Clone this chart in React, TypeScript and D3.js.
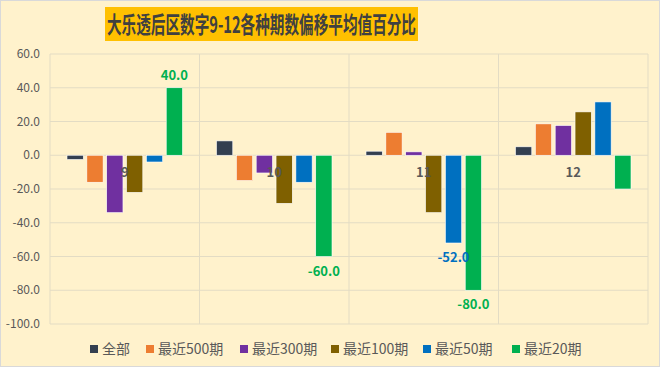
import * as d3 from "d3"
import { useEffect, useRef } from "react"

const categories = ["9", "10", "11", "12"]
const seriesNames = ["全部", "最近500期", "最近300期", "最近100期", "最近50期", "最近20期"]
const seriesColors = ["#333F50", "#ED7D31", "#7030A0", "#7F6000", "#0070C0", "#00B050"]

// values per series, one entry per category (9, 10, 11, 12)
const allValues = [-2.5, 8.5, 2.4, 5]
const last500 = [-16, -15, 13.6, 18.6]
const last300 = [-34, -10.5, 2, 17.6]
const last100 = [-22, -28.5, -34, 25.7]
const last50 = [-4, -16, -52, 31.6]
const last20 = [40, -60, -80, -20]
const seriesValues = [allValues, last500, last300, last100, last50, last20]

// which bars carry a value label: [series index, category index]
const labelled = [
  [5, 0],
  [5, 1],
  [4, 2],
  [5, 2],
]

const yTicks = [60, 40, 20, 0, -20, -40, -60, -80, -100]
const FONT = "'Noto Sans CJK SC', 'Noto Sans', sans-serif"

const App = () => {
  const svgRef = useRef<SVGSVGElement>(null)
  const width = 660
  const height = 367

  useEffect(() => {
    if (!svgRef.current) return
    d3.select(svgRef.current).selectAll("*").remove()

    const MARGIN = { top: 54, right: 12, bottom: 43, left: 50 }
    const svg = d3.select(svgRef.current)

    // background + frame
    svg
      .append("rect")
      .attr("x", 0.5)
      .attr("y", 0.5)
      .attr("width", width - 1)
      .attr("height", height - 1)
      .attr("fill", "#FFF2CC")
      .attr("stroke", "#D9D9D9")

    // title
    svg
      .append("rect")
      .attr("x", 105)
      .attr("y", 7)
      .attr("width", 313)
      .attr("height", 34)
      .attr("fill", "#FFC000")
    svg
      .append("text")
      .attr("x", 107)
      .attr("y", 33)
      .attr("font-family", FONT)
      .attr("font-weight", "bold")
      .attr("font-size", "23px")
      .attr("fill", "#404040")
      .attr("textLength", 309)
      .attr("lengthAdjust", "spacingAndGlyphs")
      .text("大乐透后区数字9-12各种期数偏移平均值百分比")

    const x0 = d3
      .scaleBand()
      .domain(categories)
      .range([MARGIN.left, width - MARGIN.right])
      .paddingInner(0)
      .paddingOuter(0)

    const x1 = d3
      .scaleBand()
      .domain(seriesNames)
      .range([17, x0.bandwidth() - 17])
      .paddingInner(0.18)
      .paddingOuter(0)

    const yScale = d3
      .scaleLinear()
      .domain([-100, 60])
      .range([height - MARGIN.bottom, MARGIN.top])

    // horizontal gridlines
    svg
      .selectAll("line.hgrid")
      .data(yTicks)
      .join("line")
      .attr("class", "hgrid")
      .attr("x1", MARGIN.left)
      .attr("x2", width - MARGIN.right)
      .attr("y1", (d) => yScale(d))
      .attr("y2", (d) => yScale(d))
      .attr("stroke", "#E3DCC4")
      .attr("stroke-width", 1)

    // vertical category separators
    const vx = categories.map((c) => x0(c) as number).concat([width - MARGIN.right])
    svg
      .selectAll("line.vgrid")
      .data(vx)
      .join("line")
      .attr("class", "vgrid")
      .attr("x1", (d) => d)
      .attr("x2", (d) => d)
      .attr("y1", yScale(60))
      .attr("y2", yScale(-100))
      .attr("stroke", "#E3DCC4")
      .attr("stroke-width", 1)

    // y axis labels
    svg
      .selectAll("text.ytick")
      .data(yTicks)
      .join("text")
      .attr("class", "ytick")
      .attr("x", MARGIN.left - 10)
      .attr("y", (d) => yScale(d))
      .attr("dy", "0.35em")
      .attr("text-anchor", "end")
      .attr("font-family", FONT)
      .attr("font-size", "12px")
      .attr("fill", "#595959")
      .text((d) => d.toFixed(1))

    // bars
    seriesValues.forEach((vals, si) => {
      svg
        .append("g")
        .selectAll("rect")
        .data(vals)
        .join("rect")
        .attr("x", (_, ci) => (x0(categories[ci]) as number) + (x1(seriesNames[si]) as number))
        .attr("width", x1.bandwidth())
        .attr("y", (d) => yScale(Math.max(0, d)))
        .attr("height", (d) => Math.abs(yScale(d) - yScale(0)))
        .attr("fill", seriesColors[si])
        .attr("stroke", "#FFFFFF")
        .attr("stroke-width", 0.6)
    })

    // category labels, drawn near the zero line
    svg
      .selectAll("text.cat")
      .data(categories)
      .join("text")
      .attr("class", "cat")
      .attr("x", (d) => (x0(d) as number) + x0.bandwidth() / 2)
      .attr("y", yScale(0) + 22)
      .attr("text-anchor", "middle")
      .attr("font-family", FONT)
      .attr("font-weight", "bold")
      .attr("font-size", "13px")
      .attr("fill", "#595959")
      .text((d) => d)

    // value labels
    svg
      .selectAll("text.val")
      .data(labelled)
      .join("text")
      .attr("class", "val")
      .attr(
        "x",
        ([si, ci]) =>
          (x0(categories[ci]) as number) + (x1(seriesNames[si]) as number) + x1.bandwidth() / 2,
      )
      .attr("y", ([si, ci]) => {
        const v = seriesValues[si][ci]
        return v >= 0 ? yScale(v) - 8 : yScale(v) + 19
      })
      .attr("text-anchor", "middle")
      .attr("font-family", FONT)
      .attr("font-weight", "bold")
      .attr("font-size", "13px")
      .attr("fill", ([si]) => seriesColors[si])
      .text(([si, ci]) => seriesValues[si][ci].toFixed(1))

    // legend
    const legendX = [90, 146, 240, 331, 423, 512]
    const legend = svg
      .selectAll("g.legend")
      .data(seriesNames)
      .join("g")
      .attr("class", "legend")
      .attr("transform", (_, i) => `translate(${legendX[i]}, 349)`)
    legend
      .append("rect")
      .attr("x", 0)
      .attr("y", -4)
      .attr("width", 8)
      .attr("height", 8)
      .attr("fill", (_, i) => seriesColors[i])
    legend
      .append("text")
      .attr("x", 12)
      .attr("y", 0)
      .attr("dy", "0.36em")
      .attr("font-family", FONT)
      .attr("font-size", "14px")
      .attr("fill", "#595959")
      .text((d) => d)
  }, [])

  return (
    <svg
      ref={svgRef}
      width={width}
      height={height}
      style={{ position: "absolute", left: 0, top: 0, display: "block" }}
    />
  )
}

export default App
